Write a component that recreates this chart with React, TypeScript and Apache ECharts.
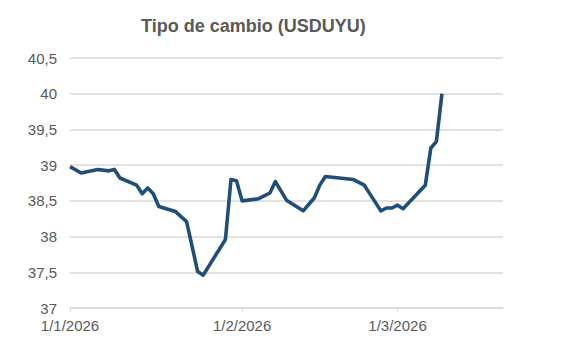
import React, { useEffect, useRef } from "react";
import * as echarts from "echarts";

const dates: string[] = [
  "2026-01-01", "2026-01-03", "2026-01-06", "2026-01-08", "2026-01-09", "2026-01-10",
  "2026-01-13", "2026-01-14", "2026-01-15", "2026-01-16", "2026-01-17", "2026-01-20",
  "2026-01-22", "2026-01-24", "2026-01-25", "2026-01-29", "2026-01-30", "2026-01-31",
  "2026-02-01", "2026-02-04", "2026-02-06", "2026-02-07", "2026-02-09", "2026-02-12",
  "2026-02-14", "2026-02-15", "2026-02-16", "2026-02-21", "2026-02-23", "2026-02-26",
  "2026-02-27", "2026-02-28", "2026-03-01", "2026-03-02", "2026-03-06", "2026-03-07",
  "2026-03-08", "2026-03-09",
];
const values: number[] = [
  38.98, 38.89, 38.94, 38.92, 38.94, 38.82,
  38.72, 38.6, 38.68, 38.6, 38.42, 38.35,
  38.21, 37.51, 37.46, 37.96, 38.8, 38.78,
  38.5, 38.53, 38.61, 38.77, 38.51, 38.36,
  38.54, 38.72, 38.84, 38.8, 38.72, 38.36,
  38.4, 38.4, 38.44, 38.39, 38.72, 39.24,
  39.33, 40.0,
];
const monthTicks: string[] = ["2026-01-01", "2026-02-01", "2026-03-01"];
const axisStart = "2026-01-01";
const axisEnd = "2026-03-20";
const yMin = 37;
const yMax = 40.5;
const yStep = 0.5;
const title = "Tipo de cambio (USDUYU)";

const toTs = (s: string) => {
  const [y, m, d] = s.split("-").map(Number);
  return new Date(y, m - 1, d).getTime();
};

const FONT = 'Arial, "Liberation Sans", sans-serif';
const GREY = "#595959";

export default function App() {
  const ref = useRef<HTMLDivElement>(null);
  useEffect(() => {
    if (!ref.current) return;
    const chart = echarts.init(ref.current, null, { renderer: "svg" });
    const tickVals = monthTicks.map(toTs);
    chart.setOption({
      animation: false,
      backgroundColor: "#ffffff",
      textStyle: { fontFamily: FONT },
      title: {
        text: title,
        left: 136,
        top: 12,
        textStyle: { fontFamily: FONT, fontSize: 18, fontWeight: "bold", color: GREY },
      },
      grid: { left: 70, right: 74, top: 58, bottom: 54, containLabel: false },
      xAxis: {
        type: "value",
        min: toTs(axisStart),
        max: toTs(axisEnd),
        axisLine: { show: true, lineStyle: { color: "#d9d9d9", width: 1.5 } },
        axisTick: {
          show: true,
          length: 4,
          customValues: tickVals,
          lineStyle: { color: "#d9d9d9", width: 1 },
        },
        axisLabel: {
          customValues: tickVals,
          margin: 10,
          fontFamily: FONT,
          fontSize: 15,
          color: GREY,
          hideOverlap: false,
          formatter: (v: number) => {
            const d = new Date(v);
            return `${d.getDate()}/${d.getMonth() + 1}/${d.getFullYear()}`;
          },
        },
        splitLine: { show: false },
      },
      yAxis: {
        type: "value",
        min: yMin,
        max: yMax,
        interval: yStep,
        axisLine: { show: false },
        axisTick: { show: false },
        axisLabel: {
          margin: 13,
          fontFamily: FONT,
          fontSize: 15,
          color: GREY,
          formatter: (v: number) => String(v).replace(".", ","),
        },
        splitLine: { show: true, lineStyle: { color: "#d9d9d9", width: 1.5 } },
      },
      series: [
        {
          type: "line",
          data: dates.map((d, i) => [toTs(d), values[i]]),
          showSymbol: false,
          symbol: "none",
          lineStyle: { color: "#1f4e79", width: 3.6, join: "round" },
          itemStyle: { color: "#1f4e79" },
        },
      ],
    });
    return () => chart.dispose();
  }, []);
  return (
    <div
      ref={ref}
      style={{ position: "fixed", left: 0, top: 0, width: 577, height: 362, background: "#fff" }}
    />
  );
}
